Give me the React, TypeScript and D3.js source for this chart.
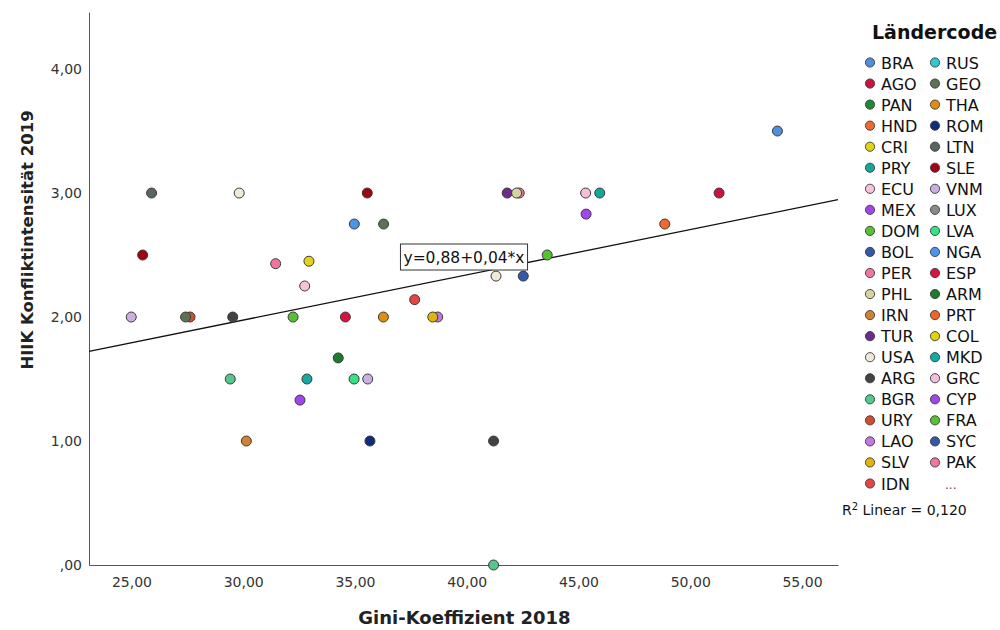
import * as d3 from 'd3';
import React, { useEffect, useRef } from 'react';

// legend: country codes and their marker colours (col 1 = first 21)
const legendCodes = [
  'BRA', 'AGO', 'PAN', 'HND', 'CRI', 'PRY', 'ECU', 'MEX', 'DOM', 'BOL', 'PER',
  'PHL', 'IRN', 'TUR', 'USA', 'ARG', 'BGR', 'URY', 'LAO', 'SLV', 'IDN',
  'RUS', 'GEO', 'THA', 'ROM', 'LTN', 'SLE', 'VNM', 'LUX', 'LVA', 'NGA',
  'ESP', 'ARM', 'PRT', 'COL', 'MKD', 'GRC', 'CYP', 'FRA', 'SYC', 'PAK',
];
const legendColors = [
  '#4f8fdf', '#d0103c', '#1f8a33', '#f06a2a', '#e2d414', '#14a898', '#f8c2da', '#a444f0', '#55c232', '#3458a8', '#f274a2',
  '#d8d29c', '#cf8234', '#6e2a8e', '#efe9d6', '#424444', '#52c88a', '#d44c2c', '#c477e2', '#e2b412', '#e84444',
  '#30c8d2', '#5c7254', '#e28c12', '#0c2c7c', '#5a6462', '#a00412', '#cbaee2', '#8a8a8a', '#34e484', '#4c94ea',
  '#d8123c', '#1c7c2a', '#f26424', '#e2d402', '#12aaa2', '#f9bcda', '#a444f0', '#55c232', '#3458a8', '#f274a2',
];

// scatter points (draw order)
const pointCodes = [
  'VNM', 'SLE', 'LTN', 'URY', 'GEO', 'BGR', 'ARG', 'USA', 'IRN', 'PER', 'FRA', 'CYP', 'ECU', 'MKD', 'CRI',
  'ARM', 'ESP', 'LVA', 'NGA', 'SLE', 'VNM', 'ROM', 'THA', 'GEO', 'IDN', 'LAO', 'SLV', 'BGR', 'ARG', 'USA',
  'PAK', 'TUR', 'PHL', 'BOL', 'DOM', 'GRC', 'MEX', 'PRY', 'HND', 'AGO', 'BRA',
];
const giniValues = [
  24.99, 25.50, 25.90, 27.62, 27.42, 29.42, 29.53, 29.82, 30.14, 31.45, 32.23, 32.54, 32.75, 32.85, 32.94,
  34.25, 34.57, 34.96, 34.97, 35.55, 35.57, 35.67, 36.27, 36.28, 37.67, 38.70, 38.48, 41.20, 41.20, 41.31,
  42.35, 41.81, 42.23, 42.53, 43.60, 45.32, 45.34, 45.95, 48.86, 51.29, 53.90,
];
const hiikValues = [
  2.00, 2.50, 3.00, 2.00, 2.00, 1.50, 2.00, 3.00, 1.00, 2.43, 2.00, 1.33, 2.25, 1.50, 2.45,
  1.67, 2.00, 1.50, 2.75, 3.00, 1.50, 1.00, 2.00, 2.75, 2.14, 2.00, 2.00, 0.00, 1.00, 2.33,
  3.00, 3.00, 3.00, 2.33, 2.50, 3.00, 2.83, 3.00, 2.75, 3.00, 3.50,
];

const xTicks = [25, 30, 35, 40, 45, 50, 55];
const yTicks = [0, 1, 2, 3, 4];
const xDomain = [23.1, 56.61];
const yDomain = [0, 4.46];

// linear fit
const fitIntercept = 0.88;
const fitSlope = 0.0365;
const fitLabel = 'y=0,88+0,04*x';
const rSquared = '0,120';

const W = 1000;
const H = 630;
const plot = { left: 89, right: 838, top: 12, bottom: 565 };
const FONT = '"DejaVu Sans", sans-serif';

const fmt = (v: number) => d3.format('.2f')(v).replace('.', ',').replace(/^0,/, ',');

const App = () => {
  const ref = useRef<SVGSVGElement>(null);

  useEffect(() => {
    const svg = d3.select(ref.current);
    svg.selectAll('*').remove();

    const x = d3.scaleLinear().domain(xDomain).range([plot.left, plot.right]);
    const y = d3.scaleLinear().domain(yDomain).range([plot.bottom, plot.top]);
    const color = d3.scaleOrdinal<string, string>().domain(legendCodes).range(legendColors);

    // axes
    const xAxis = svg.append('g')
      .attr('transform', `translate(0,${plot.bottom})`)
      .style('color', '#333')
      .call(d3.axisBottom(x).tickValues(xTicks).tickFormat((d) => fmt(+d)).tickSize(0).tickPadding(12));
    xAxis.select('.domain').attr('stroke', '#555');
    xAxis.selectAll('text').attr('font-family', FONT).attr('font-size', 14).attr('fill', '#333');

    const yAxis = svg.append('g')
      .attr('transform', `translate(${plot.left},0)`)
      .style('color', '#333')
      .call(d3.axisLeft(y).tickValues(yTicks).tickFormat((d) => fmt(+d)).tickSize(0).tickPadding(7));
    yAxis.select('.domain').attr('stroke', '#555');
    yAxis.selectAll('text').attr('font-family', FONT).attr('font-size', 14).attr('fill', '#333');

    // axis titles
    svg.append('text')
      .attr('x', (plot.left + plot.right) / 2 + 1)
      .attr('y', 624)
      .attr('text-anchor', 'middle')
      .attr('font-family', FONT).attr('font-weight', 'bold').attr('font-size', 18)
      .attr('fill', '#222')
      .text('Gini-Koeffizient 2018');

    svg.append('text')
      .attr('transform', 'translate(33,240) rotate(-90)')
      .attr('text-anchor', 'middle')
      .attr('font-family', FONT).attr('font-weight', 'bold').attr('font-size', 16.5)
      .attr('fill', '#222')
      .text('HIIK Konfliktintensität 2019');

    // fit line
    const line = d3.line<number>().x((d) => x(d)).y((d) => y(fitIntercept + fitSlope * d));
    svg.append('path')
      .attr('d', line(xDomain))
      .attr('fill', 'none')
      .attr('stroke', '#111')
      .attr('stroke-width', 1.3);

    // fit label box
    const lx = 464;
    const ly = 257;
    const lbl = svg.append('g');
    const txt = lbl.append('text')
      .attr('x', lx).attr('y', ly + 5.5)
      .attr('text-anchor', 'middle')
      .attr('font-family', FONT).attr('font-size', 15.5)
      .attr('fill', '#111')
      .text(fitLabel);
    const bb = (txt.node() as SVGTextElement).getBBox();
    lbl.insert('rect', 'text')
      .attr('x', bb.x - 3).attr('y', ly - 13)
      .attr('width', bb.width + 6).attr('height', 26)
      .attr('fill', '#fff').attr('stroke', '#333').attr('stroke-width', 1);

    // points
    svg.append('g')
      .selectAll('circle')
      .data(pointCodes.map((c, i) => ({ c, gx: giniValues[i], hy: hiikValues[i] })))
      .enter()
      .append('circle')
      .attr('cx', (d) => x(d.gx))
      .attr('cy', (d) => y(d.hy))
      .attr('r', 5)
      .attr('fill', (d) => color(d.c))
      .attr('stroke', '#3c3c3c')
      .attr('stroke-width', 1);

    // legend
    const leg = svg.append('g');
    leg.append('text')
      .attr('x', 872).attr('y', 39)
      .attr('font-family', FONT).attr('font-weight', 'bold').attr('font-size', 19)
      .attr('fill', '#111')
      .text('Ländercode');

    const rowH = 21.05;
    const items = leg.selectAll('g.item')
      .data(legendCodes)
      .enter()
      .append('g')
      .attr('class', 'item')
      .attr('transform', (d, i) => {
        const col = i < 21 ? 0 : 1;
        const row = i < 21 ? i : i - 21;
        return `translate(${col === 0 ? 870 : 935},${62.5 + row * rowH})`;
      });
    items.append('circle')
      .attr('r', 4.6)
      .attr('fill', (d) => color(d))
      .attr('stroke', '#3c3c3c')
      .attr('stroke-width', 0.9);
    items.append('text')
      .attr('x', 11).attr('y', 6)
      .attr('font-family', FONT).attr('font-size', 16)
      .attr('fill', '#111')
      .text((d) => d);

    leg.append('text')
      .attr('x', 945).attr('y', 62.5 + 20 * rowH + 5)
      .attr('font-family', FONT).attr('font-size', 12)
      .attr('fill', '#555')
      .text('...');

    const r2 = leg.append('text')
      .attr('x', 842).attr('y', 515)
      .attr('font-family', FONT).attr('font-size', 14)
      .attr('fill', '#111');
    r2.append('tspan').text('R');
    r2.append('tspan').attr('font-size', 10).attr('dy', -5).text('2');
    r2.append('tspan').attr('dy', 5).text(` Linear = ${rSquared}`);
  }, []);

  return (
    <div style={{ position: 'absolute', left: 0, top: 0 }}>
      <svg ref={ref} width={W} height={H} style={{ display: 'block', background: '#fff' }} />
    </div>
  );
};

export default App;
